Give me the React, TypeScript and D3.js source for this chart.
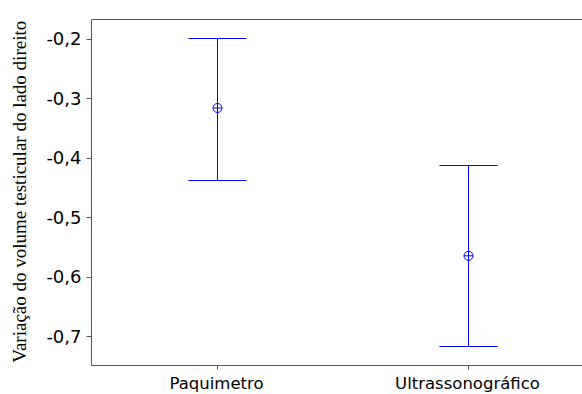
import React from 'react';
import * as d3 from 'd3';

// Interval plot: mean with 95% CI
const categories = ['Paquimetro', 'Ultrassonográfico'];
const means = [-0.316, -0.5645];
const lowerCI = [-0.4366, -0.7168];
const upperCI = [-0.198, -0.4124];
const yTicks = [-0.2, -0.3, -0.4, -0.5, -0.6, -0.7];
const yLabel = 'Variação do volume testicular do lado direito';

const width = 582;
const height = 394;
const margin = { top: 18.5, right: -11, bottom: 29, left: 91 };

const App: React.FC = () => {
  const x = d3
    .scalePoint<string>()
    .domain(categories)
    .range([margin.left, width - margin.right])
    .padding(0.5);

  const y = d3
    .scaleLinear()
    .domain([-0.748, -0.1656])
    .range([height - margin.bottom, margin.top]);

  const px = (v: number) => Math.round(v) + 0.5;
  const fmt = (v: number) => v.toFixed(1).replace('.', ',');
  const capHalf = 29;
  const axisColor = '#555';
  const blue = '#0000ff';
  const x0 = px(margin.left);
  const x1 = width - margin.right;
  const yTop = px(margin.top);
  const yBot = px(height - margin.bottom);

  return (
    <svg
      width={width}
      height={height}
      style={{ position: 'absolute', left: 0, top: 0, background: '#fff' }}
    >
      {/* frame: left, top, bottom */}
      <g stroke={axisColor} strokeWidth={1} fill="none">
        <line x1={x0} y1={yTop} x2={x0} y2={yBot} />
        <line x1={x0} y1={yTop} x2={x1} y2={yTop} />
        <line x1={x0} y1={yBot} x2={x1} y2={yBot} />
      </g>

      {/* y axis ticks */}
      {yTicks.map((t) => (
        <g key={t}>
          <line x1={x0 - 5} x2={x0} y1={px(y(t))} y2={px(y(t))} stroke={axisColor} />
          <text
            x={x0 - 10}
            y={y(t)}
            dy="0.36em"
            textAnchor="end"
            fontFamily="'DejaVu Sans', sans-serif"
            fontSize={18}
            fill="#000"
          >
            {fmt(t)}
          </text>
        </g>
      ))}

      {/* x axis ticks */}
      {categories.map((c) => (
        <g key={c}>
          <line x1={px(x(c)!)} x2={px(x(c)!)} y1={yBot} y2={yBot + 4} stroke={axisColor} />
          <text
            x={x(c)!}
            y={389}
            textAnchor="middle"
            fontFamily="'DejaVu Sans', sans-serif"
            fontSize={16.5}
            fill="#000"
          >
            {c}
          </text>
        </g>
      ))}

      {/* y label */}
      <text
        transform={`translate(26,${(margin.top + height - margin.bottom) / 2}) rotate(-90)`}
        textAnchor="middle"
        fontFamily="'Liberation Serif', 'Times New Roman', serif"
        fontSize={19}
        fill="#000"
      >
        {yLabel}
      </text>

      {/* intervals */}
      {categories.map((c, i) => {
        const cx = px(x(c)!);
        const yu = px(y(upperCI[i]));
        const yl = px(y(lowerCI[i]));
        const ym = y(means[i]);
        return (
          <g key={c} stroke={blue} strokeWidth={1} fill="none">
            <line x1={cx} x2={cx} y1={yu} y2={yl} />
            <line x1={cx - capHalf} x2={cx + capHalf} y1={yu} y2={yu} />
            <line x1={cx - capHalf} x2={cx + capHalf} y1={yl} y2={yl} />
            <circle cx={cx} cy={ym} r={4.5} />
            <line x1={cx - 4.5} x2={cx + 4.5} y1={ym} y2={ym} />
          </g>
        );
      })}
    </svg>
  );
};

export default App;
